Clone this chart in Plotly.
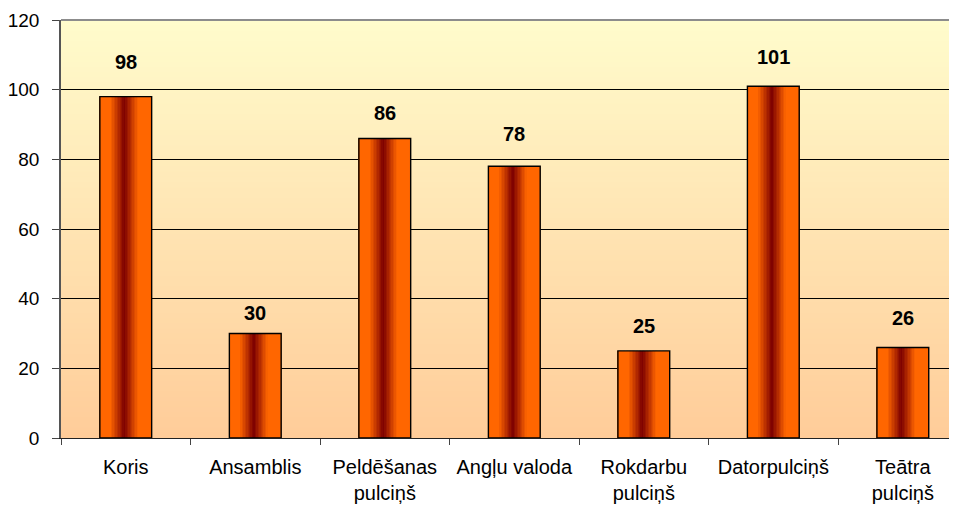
import plotly.graph_objects as go

# data
categories = ['Koris', 'Ansamblis', 'Peldēšanas<br>pulciņš', 'Angļu valoda',
              'Rokdarbu<br>pulciņš', 'Datorpulciņš', 'Teātra<br>pulciņš']
values = [98, 30, 86, 78, 25, 101, 26]
y_ticks = [0, 20, 40, 60, 80, 100, 120]

FONT = 'Liberation Sans, Arial, sans-serif'


def mix(c1, c2, t):
    return 'rgb(%d,%d,%d)' % tuple(round(a + (b - a) * t) for a, b in zip(c1, c2))


fig = go.Figure()

# bars drawn as thin vertical slices to fake the cylinder gradient
bar_w = 0.4
n_slices = 36
edge = (255, 102, 0)
mid = (125, 0, 0)
centre = 0.48
for i in range(n_slices):
    t = (i + 0.5) / n_slices
    d = min(1.0, abs(t - centre) / 0.27)
    fig.add_trace(go.Bar(
        x=categories, y=values,
        width=bar_w / n_slices * 1.2,
        offset=-bar_w / 2 + i * bar_w / n_slices,
        marker=dict(color=mix(mid, edge, d), line=dict(width=0)),
        hoverinfo='skip', showlegend=False,
    ))

# outline
fig.add_trace(go.Bar(
    x=categories, y=values, width=bar_w, offset=-bar_w / 2,
    marker=dict(color='rgba(0,0,0,0)', line=dict(color='black', width=1.4)),
    showlegend=False,
))

# value labels (pixel gap above each bar differs a bit in the original)
label_gap = [35, 21, 25, 32, 25, 29, 29]
for c, v, g in zip(categories, values, label_gap):
    fig.add_annotation(x=c, y=v, text='<b>%d</b>' % v, showarrow=False, yshift=g,
                       font=dict(family=FONT, size=20, color='black'))

# background gradient of the plot area
n_bands = 80
top = (255, 252, 204)
bottom = (255, 204, 153)
for i in range(n_bands):
    fig.add_shape(type='rect', xref='x domain', yref='y domain',
                  x0=0, x1=1, y0=i / n_bands, y1=(i + 1) / n_bands + 0.002,
                  fillcolor=mix(bottom, top, (i + 0.5) / n_bands),
                  line=dict(width=0), layer='below')

# grey top border
fig.add_shape(type='line', xref='x domain', yref='y domain', x0=0, x1=1, y0=1, y1=1,
              line=dict(color='#8c8c8c', width=2), layer='above')

# page has an 8px body margin, so margins are shifted by 8
fig.update_layout(
    width=957, height=506,
    margin=dict(l=53, r=0, t=12, b=76),
    paper_bgcolor='white', plot_bgcolor='white',
    barmode='overlay',
    font=dict(family=FONT, size=20, color='black'),
    xaxis=dict(type='category', range=[-0.5, 6.48], tickson='boundaries',
               ticks='outside', ticklen=6, tickcolor='#444', showgrid=False,
               showline=True, linecolor='#222', linewidth=1.3,
               ticklabelstandoff=11, tickfont=dict(size=20)),
    yaxis=dict(range=[0, 120], tickvals=y_ticks, ticks='outside', ticklen=7,
               tickcolor='#444', showgrid=True, gridcolor='black', gridwidth=1,
               showline=True, linecolor='#555', linewidth=1.5, zeroline=False,
               ticklabelstandoff=9, tickfont=dict(size=19)),
)

fig.write_html('out.html')
